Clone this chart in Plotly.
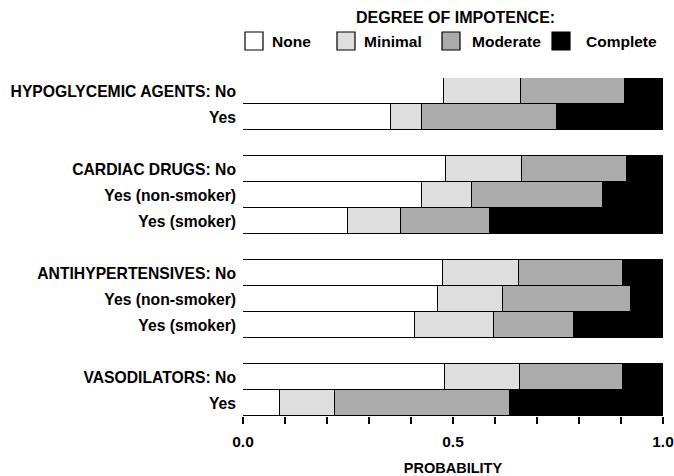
import plotly.graph_objects as go

# ---- data ----
row_labels = [
    "HYPOGLYCEMIC AGENTS: No", "Yes",
    "CARDIAC DRUGS: No", "Yes (non-smoker)", "Yes (smoker)",
    "ANTIHYPERTENSIVES: No", "Yes (non-smoker)", "Yes (smoker)",
    "VASODILATORS: No", "Yes",
]
row_pos = [0, 1, 3, 4, 5, 7, 8, 9, 11, 12]  # blank row between groups

p_none     = [0.478, 0.352, 0.484, 0.426, 0.250, 0.475, 0.465, 0.409, 0.480, 0.089]
p_minimal  = [0.183, 0.074, 0.181, 0.120, 0.127, 0.182, 0.153, 0.189, 0.180, 0.131]
p_moderate = [0.248, 0.321, 0.250, 0.311, 0.211, 0.247, 0.306, 0.189, 0.245, 0.416]
p_complete = [round(1 - a - b - c, 3) for a, b, c in zip(p_none, p_minimal, p_moderate)]

series_names = ["None", "Minimal", "Moderate", "Complete"]
series_values = [p_none, p_minimal, p_moderate, p_complete]
series_colors = ["#ffffff", "#dedede", "#ababab", "#000000"]

x_tickvals = [0.0, 0.1, 0.2, 0.3, 0.4, 0.5, 0.6, 0.7, 0.8, 0.9, 1.0]
x_ticktext = ["0.0", "", "", "", "", "0.5", "", "", "", "", "1.0"]

FONT = "Liberation Sans, Arial, Helvetica, sans-serif"

fig = go.Figure()
for name, vals, col in zip(series_names, series_values, series_colors):
    fig.add_trace(go.Bar(
        y=row_pos, x=vals, name=name, orientation="h",
        marker=dict(color=col, line=dict(color="black", width=1.2)),
        width=1.0, showlegend=False,
    ))

W, H = 674, 476
ML, MR, MT, MB = 243, 11, 78, 60
pw, ph = W - ML - MR, H - MT - MB


def px(x):
    return (x - ML) / pw


def py(y):
    return (H - MB - y) / ph


# ---- custom legend ----
legend_box_x = [245, 337, 442, 552]
legend_text_x = [270, 362, 470, 584]
shapes = []
annotations = []
for name, col, bx, tx in zip(series_names, series_colors, legend_box_x, legend_text_x):
    shapes.append(dict(type="rect", xref="paper", yref="paper",
                       x0=px(bx), x1=px(bx + 18), y0=py(50), y1=py(32),
                       fillcolor=col, line=dict(color="black", width=1.2)))
    annotations.append(dict(text="<b>" + name + "</b>", xref="paper", yref="paper",
                            x=px(tx), y=py(42), xanchor="left", yanchor="middle",
                            showarrow=False,
                            font=dict(family=FONT, size=15.5, color="black")))
annotations.append(dict(text="<b>DEGREE OF IMPOTENCE:</b>", xref="paper", yref="paper",
                        x=px(455), y=py(18), xanchor="center", yanchor="middle",
                        showarrow=False,
                        font=dict(family=FONT, size=16, color="black")))

fig.update_layout(
    barmode="stack",
    bargap=0,
    width=W, height=H,
    margin=dict(l=ML, r=MR, t=MT, b=MB, pad=0),
    plot_bgcolor="white", paper_bgcolor="white",
    font=dict(family=FONT, size=15, color="black"),
    shapes=shapes,
    annotations=annotations,
    showlegend=False,
    xaxis=dict(
        range=[0, 1], tickvals=x_tickvals, ticktext=["<b>" + t + "</b>" if t else "" for t in x_ticktext],
        ticks="outside", ticklen=7, tickwidth=1.5, tickcolor="black",
        showgrid=False, zeroline=False, showline=False, automargin=False,
        ticklabelstandoff=4,
        tickfont=dict(family=FONT, size=15.5, color="black"),
        title=dict(text="<b>PROBABILITY</b>", font=dict(family=FONT, size=14.5, color="black"),
                   standoff=18),
    ),
    yaxis=dict(
        range=[12.5, -0.5], tickvals=row_pos,
        ticktext=["<b>" + t + "</b>" for t in row_labels],
        ticks="", showgrid=False, zeroline=False, showline=False, automargin=False,
        ticklabelstandoff=6,
        tickfont=dict(family=FONT, size=15.7, color="black"),
    ),
)

fig.write_html("out.html")
